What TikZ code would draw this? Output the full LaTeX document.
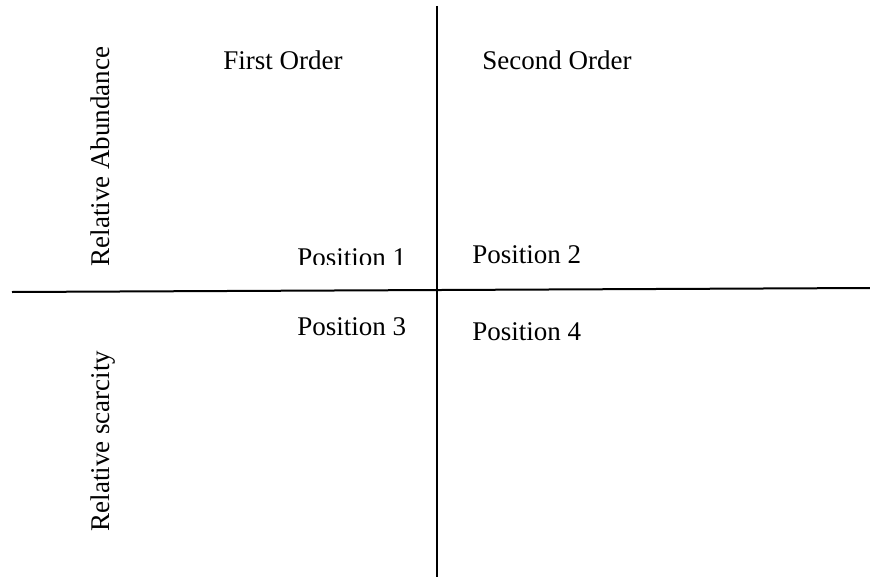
\documentclass[tikz,border=0pt]{standalone}
\usepackage{fontspec}
\setmainfont{Liberation Serif}
\usetikzlibrary{positioning}
\tikzset{
  axis/.style={draw=black,line width=1pt},
  lbl/.style={font=\fontsize{13.5}{16}\selectfont,inner sep=0pt,anchor=base west},
  side/.style={font=\fontsize{13.5}{16}\selectfont,inner sep=0pt,anchor=base,rotate=90},
}
\begin{document}
\begin{tikzpicture}[x=0.5pt,y=-0.5pt]
    \useasboundingbox (0,0) rectangle (870,577);
    % axes
    \coordinate (vtop) at (437,6);
    \coordinate (vbot) at (437,577);
    \coordinate (hleft) at (12,292);
    \coordinate (hright) at (870,288);
    \draw[axis] (vtop) -- (vbot);
    \draw[axis] (hleft) -- (hright);
    % headings
    \node[lbl] (first) at (223,69.5) {First Order};
    \node[lbl] (second) at (482,69.5) {Second Order};
    \node[side] (abund) at (109,156.5) {Relative Abundance};
    \node[side] (scarce) at (109,441) {Relative scarcity};
    % quadrants
    \begin{scope}
      \clip (280,230) rectangle (430,264);
      \node[lbl] (pos1) at (297,266) {Position 1};
    \end{scope}
    \node[lbl] (pos2) at (472,263) {Position 2};
    \node[lbl] (pos3) at (297,335) {Position 3};
    \node[lbl] (pos4) at (472,340) {Position 4};
\end{tikzpicture}
\end{document}
